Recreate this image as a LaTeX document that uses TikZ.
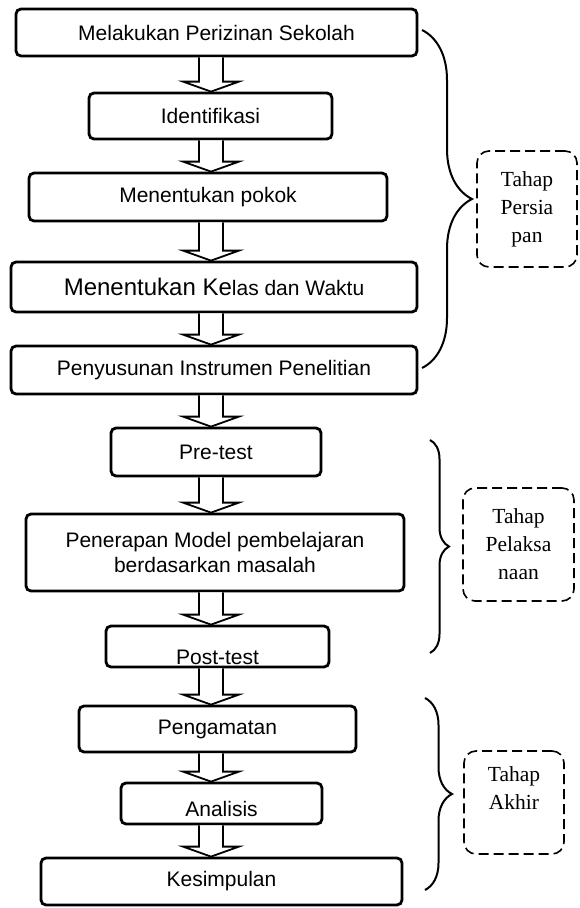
\documentclass[tikz,border=0pt]{standalone}
\usepackage{fontspec}
\setmainfont{Liberation Serif}
\setsansfont{Liberation Sans}
\usetikzlibrary{calc,decorations.pathreplacing}

\begin{document}
\begin{tikzpicture}[
    x=1pt, y=-1pt,
    box/.style={rectangle, rounded corners=5pt, draw, line width=2.8pt, fill=white, inner sep=0pt, align=center, font=\sffamily\fontsize{21}{25}\selectfont},
    phase/.style={rectangle, rounded corners=12pt, draw, dash pattern=on 10pt off 5pt, line width=1.6pt, inner sep=0pt, align=center, font=\rmfamily\fontsize{21.5}{28}\selectfont},
    group/.style={decorate, line width=2pt},
    flow/.style={draw, line width=1.8pt, fill=white, line join=miter,
        to path={let \p1=(\tikztostart.south), \p2=(\tikztotarget.north), \p3=(spine) in
            (\x3-12pt,\y1) -- (\x3-12pt,\y2+10pt) -- (\x3-28pt,\y2+10pt) -- (\x3,\y2)
            -- (\x3+28pt,\y2+10pt) -- (\x3+12pt,\y2+10pt) -- (\x3+12pt,\y1)}}
]
    \useasboundingbox (0,0) rectangle (580,908);
    \coordinate (spine) at (211,0);

    % langkah-langkah
    \node[box, minimum width=401pt, minimum height=47pt] (izin) at (216.5,32.5) {Melakukan Perizinan Sekolah};
    \node[box, minimum width=243pt, minimum height=46pt] (ident) at (210.5,116) {Identifikasi};
    \node[box, minimum width=358pt, minimum height=48pt] (pokok) at (208,197) {Menentukan pokok};
    \node[box, minimum width=406pt, minimum height=50pt] (kelas) at (214,287) {\fontsize{24}{28}\selectfont Menentukan Ke\fontsize{21}{25}\selectfont las dan Waktu};
    \node[box, minimum width=406pt, minimum height=48pt] (instrumen) at (214,370) {Penyusunan Instrumen Penelitian};
    \node[box, minimum width=210pt, minimum height=48pt] (pre) at (216,452) {Pre-test};
    \node[box, minimum width=378pt, minimum height=77pt] (model) at (215,552.5) {Penerapan Model pembelajaran\\berdasarkan masalah};
    \node[box, minimum width=223pt, minimum height=41pt, text height=36pt, text depth=0pt] (post) at (217.5,646.5) {Post-test};
    \node[box, minimum width=277pt, minimum height=46pt] (amat) at (217.5,729) {Pengamatan};
    \node[box, minimum width=201pt, minimum height=41pt, text height=25pt, text depth=0pt] (analisis) at (221.5,803.5) {Analisis};
    \node[box, minimum width=361pt, minimum height=47pt] (simpul) at (221.5,881.5) {Kesimpulan};

    \draw[flow] (izin) to (ident);
    \draw[flow] (ident) to (pokok);
    \draw[flow] (pokok) to (kelas);
    \draw[flow] (kelas) to (instrumen);
    \draw[flow] (instrumen) to (pre);
    \draw[flow] (pre) to (model);
    \draw[flow] (model) to (post);
    \draw[flow] (post) to (amat);
    \draw[flow] (amat) to (analisis);
    \draw[flow] (analisis) to (simpul);

    % tahap
    \draw[group, decoration={brace, amplitude=50pt}] (422,30) -- (422,368);
    \draw[group, decoration={brace, amplitude=19pt}] (430,440) -- (430,653);
    \draw[group, decoration={brace, amplitude=27pt}] (425,698) -- (425,890);

    \node[phase, minimum width=100pt, minimum height=116pt] (persiapan) at (527,209) {Tahap\\Persia\\pan};
    \node[phase, minimum width=111pt, minimum height=113pt] (pelaksanaan) at (518.5,544.5) {Tahap\\Pelaksa\\naan};
    \node[phase, minimum width=100pt, minimum height=103pt] (akhir) at (514,802.5) {Tahap\\Akhir\\~};
\end{tikzpicture}
\end{document}
